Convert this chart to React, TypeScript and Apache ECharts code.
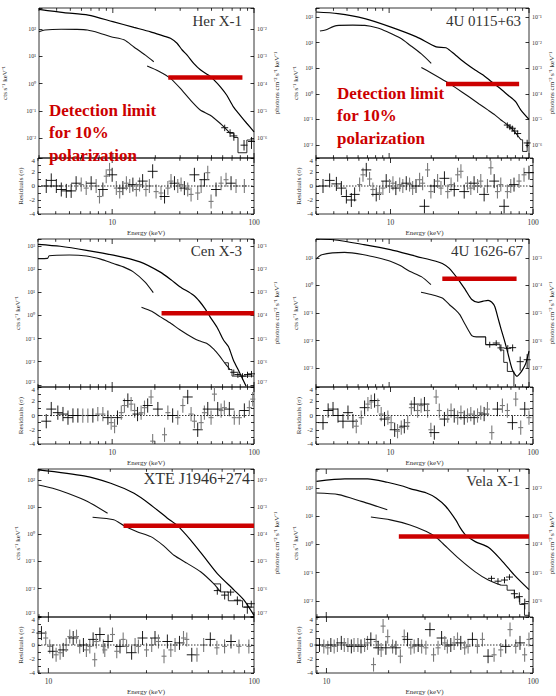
import React, { useEffect, useRef } from "react";
import * as echarts from "echarts";

const SERIF = '"Liberation Serif", "Times New Roman", serif';
const RED = "#cc0000";
const RIGHT_FACTOR = 1e-4;

// ---------- axes ----------
const X_RANGE_WIDE = [3, 100];
const X_RANGE_NARROW = [8.9, 100];
const X_TICKS_WIDE = [3, 4, 5, 6, 7, 8, 9, 10, 20, 30, 40, 50, 60, 70, 80, 90, 100];
const X_TICKS_NARROW = [9, 10, 20, 30, 40, 50, 60, 70, 80, 90, 100];
const X_MAJOR = [10, 100];

const PANEL_NAMES = ["Her X-1", "4U 0115+63", "Cen X-3", "4U 1626-67", "XTE J1946+274", "Vela X-1"];
const RED_LINES = ["Detection limit", "for 10%", "polarization"];

// ---------- Her X-1 ----------
const P1_YR = [0.00186, 590];
const P1_MODEL = [[3, 525], [4.5, 398], [6.7, 324], [10, 186], [14.1, 115], [18.5, 79], [23, 55], [25.6, 46], [28.5, 30], [31, 17], [33.6, 11], [37.4, 5.5], [41.7, 3.2], [47.8, 2.0], [51.8, 1.4], [57.8, 0.76], [64, 0.38], [71.5, 0.14], [79.5, 0.07], [88.8, 0.035], [100, 0.017]];
const P1_LOW1 = [[3, 80], [3.3, 92], [4.3, 98], [5.5, 97], [6.6, 92], [8, 72], [9.7, 52], [12, 40], [14.1, 22], [17, 11], [19.5, 6.3]];
const P1_LOW2 = [[17.5, 4.4], [21, 2.9], [25.6, 1.55], [30.1, 0.66], [35.4, 0.25], [41.6, 0.107], [49, 0.069], [57.5, 0.035], [62, 0.024], [67.7, 0.015]];
const P1_STEP = [[67.7, 0.015], [72, 0.015], [72, 0.0105], [77, 0.0105], [77, 0.0029], [89, 0.0029], [89, 0.0085], [100, 0.0085]];
const P1_PTS = [[62, 0.024, 0.018, 0.031], [67.7, 0.016, 0.011, 0.021], [72, 0.012, 0.008, 0.016], [85, 0.0055, 0.0035, 0.0085], [96, 0.0075, 0.004, 0.011]];
const P1_BAR = [[24.7, 1.68], [82.8, 1.68]];
const P1_RES = [[3.43, 0], [3.72, 0.8], [4.04, 0], [4.38, -0.5], [4.75, -0.7], [5.14, -0.7], [5.57, 0.4], [6.05, 0.2], [6.56, -0.3], [7.11, 0.4], [7.71, 0], [8.14, -1.5], [8.6, -0.5], [9.08, 1.4], [9.58, 2.3], [10, 1.6], [10.7, -0.3], [11.3, -0.8], [11.9, -0.3], [12.6, 0.4], [13.3, 0], [14, 0.2], [14.8, -0.5], [15.6, 0.2], [16.4, 0.7], [17.3, -0.5], [18.3, 0], [19.3, 2.1], [20.4, -0.8], [22.1, -1.0], [23.4, -1.5], [24.7, -0.3], [26, 0.7], [27.5, 0.4], [29, 0], [30.6, 0.2], [32.3, -0.3], [34.1, -0.5], [36, -1.2], [38, 1.6], [40.1, -1.0], [42.4, 0], [44.7, 0.9], [47.2, 1.9], [49.8, -2.2], [54, -0.5], [58.6, 0.4], [63.5, 0.9], [68.9, 0.4], [74.7, 0], [85.5, 0]];

// ---------- 4U 0115+63 ----------
const P2_YR = [0.0031, 2240];
const P2_MODEL = [[3, 1560], [4.3, 1350], [6.7, 860], [10.2, 410], [15.7, 167], [21.7, 68], [25.5, 63], [29.9, 32], [35, 16], [41.2, 8.5], [47, 5.4], [54, 2.95], [62, 1.64], [70.5, 0.9], [80, 0.5], [87.5, 0.23], [100, 0.1]];
const P2_LOW1 = [[3.2, 285], [3.5, 310], [4.2, 460], [5.5, 480], [6.7, 470], [8.3, 370], [9.7, 262], [12, 150], [14.1, 79], [17, 36], [20, 15.4]];
const P2_LOW2 = [[17, 10.7], [20, 6.5], [25.5, 3.0], [30, 1.7], [37, 0.78], [44, 0.4], [51, 0.23], [57, 0.15], [63, 0.095], [68, 0.07], [74.5, 0.046], [80, 0.03], [87.5, 0.016]];
const P2_STEP = [[87.5, 0.016], [90, 0.016], [90, 0.0056], [97, 0.0056], [97, 0.012], [100, 0.012]];
const P2_PTS = [[70, 0.06, 0.045, 0.076], [73, 0.05, 0.038, 0.063], [76, 0.045, 0.034, 0.057], [79, 0.035, 0.026, 0.045], [83, 0.028, 0.02, 0.037], [97, 0.012, 0.008, 0.016]];
const P2_BAR = [[25.5, 2.4], [85, 2.4]];
const P2_RES = [[3.36, 0], [3.74, 0.8], [4.17, 0.3], [4.52, -0.3], [4.9, -1.5], [5.31, -2.0], [5.6, -1.2], [6.07, 0.2], [6.41, 1.6], [6.76, 2.3], [7.13, 1.0], [7.52, -0.5], [7.94, -1.2], [8.37, -1.0], [8.84, -0.3], [9.33, 0.7], [9.84, 0], [10.4, 0.4], [10.9, -0.3], [11.6, 0.2], [12.2, 0], [12.9, 0.4], [13.6, 0.2], [14.3, -0.3], [15.1, 0], [16, 0.9], [16.8, 0.4], [17.3, -2.9], [18.2, 2.3], [19.2, -0.8], [20.3, 0], [21.4, 0.7], [22.6, -0.3], [23.9, 1.1], [25.2, -0.8], [26.6, 0.2], [28, -0.5], [29.6, 1.6], [31.2, 2.1], [32.9, -0.8], [34.7, 0.4], [36.6, -0.3], [38.6, 0.4], [40.8, 0], [43, 0.7], [45.4, -1.2], [47.9, 0], [50.6, 2.6], [53.4, 0.7], [56.3, -0.8], [59.4, 0.2], [62.7, -2.9], [66.1, -0.8], [69.8, 0], [73.6, 0.2], [79.8, 0.7], [86.5, 1.6], [93.7, 1.9]];

// ---------- Cen X-3 ----------
const P3_YR = [0.00081, 2000];
const P3_MODEL = [[3, 1180], [4.3, 970], [6.6, 650], [10.2, 400], [15.7, 205], [21.7, 76], [26, 35], [30, 17.4], [37.3, 7.6], [41.5, 3.9], [45, 2.0], [48.9, 0.89], [55, 0.3], [60.8, 0.089], [66, 0.045], [71.5, 0.012], [79.5, 0.0032], [88, 0.00087]];
const P3_LOW1 = [[3, 285], [3.5, 290], [3.6, 380], [5, 410], [6.6, 370], [8.3, 270], [10.2, 174], [12, 125], [14.1, 76], [17, 28], [19.5, 9.6]];
const P3_LOW2 = [[16.1, 2.24], [19, 1.5], [21.7, 0.89], [26, 0.45], [30, 0.24], [37.3, 0.105], [41, 0.08], [46.3, 0.063], [52, 0.035], [57.5, 0.017], [62, 0.009], [67.7, 0.0046]];
const P3_STEP = [[62, 0.009], [66, 0.009], [66, 0.0046], [70, 0.0046], [70, 0.0024], [100, 0.0024]];
const P3_PTS = [[72, 0.0035, 0.0025, 0.0046], [77, 0.0028, 0.002, 0.0037], [83, 0.0024, 0.0017, 0.0032], [90, 0.0028, 0.002, 0.0037], [96, 0.003, 0.0021, 0.004]];
const P3_BAR = [[22.3, 1.24], [100, 1.24]];
const P3_RES = [[3.43, -0.8], [3.72, 0.9], [4.14, 0.4], [4.5, 0.2], [4.88, -0.3], [5.29, 0], [5.73, 0], [6.21, 0], [6.74, 0], [7.31, 0], [7.92, 0.2], [8.6, 0.2], [9.33, -0.3], [9.84, -1.0], [10.4, -1.5], [10.9, -0.3], [11.6, 0.4], [12.2, 1.4], [12.9, 2.1], [13.6, 1.6], [14.4, 0.7], [15.1, 0.2], [16, 0.4], [16.9, 1.1], [17.8, 1.4], [18.8, 2.6], [19.3, -3.6], [21, 0.9], [23.4, -2.7], [24.7, 0.4], [26.7, 0], [29, -0.3], [31.5, 1.4], [34.1, 2.6], [36, 0.2], [38, -0.8], [40.1, -2.0], [42.4, -1.0], [44.7, 0.4], [47.2, 0.9], [49.8, -0.3], [52.6, 3.0], [55.5, 0.9], [58.6, 0.7], [61.8, 1.1], [67, 0.9], [72.6, -0.3], [78.8, -0.3], [85.5, 0.7], [92.7, 1.1], [98, 2.3]];

// ---------- 4U 1626-67 ----------
const P4_YR = [0.000204, 49];
const P4_MODEL = [[3, 49], [4, 46], [6.6, 30.5], [10.2, 20], [15.6, 11.5], [21.6, 7.6], [24, 6.3], [26.8, 4.3], [30.6, 1.9], [35, 0.71], [39, 0.31], [43.4, 0.245], [47, 0.27], [51, 0.29], [54, 0.25], [57, 0.17], [60, 0.066], [63.3, 0.025], [66.5, 0.0107], [70.5, 0.0036], [76, 0.00087], [82, 0.0005], [86, 0.00063], [90, 0.00087], [95, 0.0015], [100, 0.0041]];
const P4_LOW1 = [[3, 9.2], [3.3, 13.2], [4.8, 16], [6.6, 13.2], [8.3, 10.2], [10.2, 7.6], [12, 5.3], [14, 3.3], [17, 2.1], [19.9, 1.07]];
const P4_LOW2 = [[16.9, 0.57], [20, 0.47], [24, 0.35], [27, 0.2], [29.8, 0.13], [32, 0.087], [35, 0.038], [39, 0.015], [42, 0.0135], [45.8, 0.0135], [49, 0.0135], [49, 0.0071], [58, 0.0071]];
const P4_STEP = [[58, 0.0071], [62, 0.0071], [62, 0.0045], [66, 0.0045], [66, 0.0016], [70, 0.0016], [70, 0.00075], [78, 0.00075], [78, 0.00022]];
const P4_PTS = [[52.4, 0.0071, 0.0055, 0.009], [58.3, 0.0081, 0.0063, 0.0102], [63, 0.0054, 0.004, 0.0072], [70.5, 0.0052, 0.0038, 0.0068], [76.4, 0.0055, 0.004, 0.0072], [86.5, 0.0017, 0.0008, 0.0026], [97, 0.002, 0.001, 0.0032]];
const P4_BAR = [[24, 1.77], [81.5, 1.77]];
const P4_RES = [[3.36, -1.0], [3.65, 0.7], [3.95, 0.9], [4.28, 0], [4.64, -0.8], [5.03, 0.4], [5.45, -0.8], [5.75, -1.5], [6.23, -0.3], [6.58, 1.1], [6.94, 1.6], [7.32, 1.9], [7.73, 2.1], [8.15, 1.4], [8.6, 0.2], [9.08, -0.5], [9.58, -0.3], [10.1, -1.0], [10.7, -2.0], [11.2, -2.2], [11.9, -1.7], [12.5, -1.5], [13.2, -1.0], [14, 1.1], [14.7, 1.6], [15.5, 0.7], [16.4, 1.4], [17.3, 1.6], [18.2, 0.7], [19.2, -2.0], [20.3, -2.4], [20.9, 2.6], [22, 0.7], [23.9, -0.5], [25.2, 0], [26.6, 0.7], [28, 0], [29.6, -0.3], [31.2, 0.4], [32.9, -0.3], [34.7, 0], [36.6, 0.2], [38.6, -0.3], [40.8, 0], [43, 0.4], [45.4, 0.2], [47.9, 0.9], [51.4, -2.4], [56.3, 0.9], [61, 1.4], [66.1, 0.7], [71.7, -1.0], [75.7, 2.3], [82, -1.7], [87.5, 0.9], [93.7, -0.3]];

// ---------- XTE J1946+274 ----------
const P5_YR = [0.00091, 251];
const P5_MODEL = [[8.94, 234], [14.9, 140], [20.1, 75], [26.1, 32], [31.5, 12], [37.9, 3.9], [42.4, 2.07], [49.2, 0.61], [57.1, 0.15], [66.3, 0.036], [80, 0.0089], [89.4, 0.0038], [100, 0.00105]];
const P5_LOW1 = [[8.94, 65], [10.5, 49], [12.4, 32], [15.5, 16], [19.4, 5.9]];
const P5_LOW2 = [[16.4, 4.2], [20.8, 3.4], [23.3, 2.07], [27, 1.25], [31.5, 0.82], [36, 0.4], [40.8, 0.17], [47.4, 0.085], [55, 0.042], [63.8, 0.015], [68.8, 0.0076]];
const P5_STEP = [[63.8, 0.015], [68.8, 0.015], [68.8, 0.0076], [75, 0.0076], [75, 0.0036], [88, 0.0036], [88, 0.0021], [100, 0.0021]];
const P5_PTS = [[66.3, 0.0085, 0.006, 0.011], [72, 0.0058, 0.004, 0.0078], [77, 0.0075, 0.0055, 0.0095], [83, 0.0038, 0.0025, 0.0052], [92.8, 0.0021, 0.0012, 0.003], [97, 0.0028, 0.002, 0.0036]];
const P5_BAR = [[23.2, 2.07], [100, 2.07]];
const P5_RES = [[9.25, 1.7], [9.7, 1.0], [10.15, -0.2], [10.5, -0.9], [10.9, -1.4], [11.4, -1.1], [11.8, -0.7], [12.2, 0], [12.7, 1.2], [13.2, 1.0], [13.7, 1.2], [14.2, -0.2], [14.8, 0], [15.3, -0.7], [15.9, -0.2], [16.5, 0.8], [16.8, -2.1], [17.1, 0.5], [17.8, 1.5], [18.5, -0.2], [18.8, -0.7], [19.5, 0.5], [20.5, 1.5], [21.5, -0.9], [22.3, -0.2], [23.1, 0.8], [24, -0.2], [25.4, -1.1], [26.4, 0], [27.4, -0.2], [28.7, 1.0], [30, -0.7], [31.8, 0], [33, 1.0], [34.3, 0.5], [36.5, -1.6], [37.9, 0.5], [39.4, -0.7], [41.3, 0], [43.4, 0.3], [45.4, 1.0], [47.1, 0.8], [49.8, -1.4], [52.8, -1.4], [56.9, 0], [61.3, 0.8], [66, -0.4], [71.9, -0.2], [77.3, 0.5], [84.5, -0.2], [94.4, -0.2]];

// ---------- Vela X-1 ----------
const P6_YR = [0.0027, 468];
const P6_MODEL = [[8.95, 172], [12.35, 209], [16, 209], [20, 159], [24, 115], [25.9, 95], [31.2, 66], [34.8, 44], [38.9, 22], [43.5, 7.4], [45.9, 3.77], [48.6, 2.18], [54.3, 1.26], [63, 0.79], [73, 0.28], [84.7, 0.082], [100, 0.025]];
const P6_LOW1 = [[8.95, 66], [11.5, 58], [14.9, 33.5], [17.9, 22], [20, 17]];
const P6_LOW2 = [[16.6, 9.3], [20.7, 7.4], [25.9, 4.9], [31.2, 2.87], [34.8, 1.8], [37.5, 1.1], [45, 0.32], [54.3, 0.107], [63, 0.055], [73, 0.036]];
const P6_STEP = [[73, 0.036], [78, 0.036], [78, 0.024], [84.7, 0.024], [84.7, 0.013], [90, 0.013], [90, 0.0075], [95, 0.0075], [95, 0.0031], [100, 0.0031]];
const P6_PTS = [[65.3, 0.063, 0.05, 0.078], [70.3, 0.05, 0.038, 0.064], [75.7, 0.055, 0.042, 0.07], [80.1, 0.07, 0.055, 0.088], [84.7, 0.018, 0.012, 0.025], [89.6, 0.0142, 0.009, 0.02], [95.3, 0.008, 0.005, 0.012]];
const P6_BAR = [[22.8, 1.9], [100, 1.9]];
const P6_RES = [[9.25, 0], [9.71, -0.2], [10.15, -0.4], [10.5, 0], [10.9, -0.2], [11.3, 0], [11.8, 0.3], [12.2, 0], [12.7, 0], [13.2, -0.2], [13.6, 0], [14.2, 0], [14.7, -0.2], [15.3, 0], [15.8, 0.3], [16.4, 0.8], [16.9, -2.8], [17.4, 0.5], [17.8, -0.4], [18.4, -0.7], [18.8, 2.7], [19.4, -0.4], [19.8, 1.2], [20.9, -0.2], [21.7, -0.4], [22.8, -1.6], [23.8, 1.2], [24.7, 0.8], [25.6, -0.4], [26.6, -0.2], [27.8, 0], [28.9, -0.2], [30.3, -0.4], [31.7, 2.2], [33, -1.4], [34.7, -0.4], [36.1, 1.0], [37.4, 0.3], [38.5, -0.2], [40, 0], [41.5, 0.3], [43.1, 0.8], [44.7, 0.3], [46.7, -0.4], [48.5, -0.2], [50.9, 0.8], [53.8, -0.2], [56.9, 0.8], [60.6, -1.6], [64.8, -1.4], [69.8, -0.7], [73.8, -0.2], [77.4, 2.2], [82.5, -0.2], [86.5, 0.3], [91.1, -1.4], [95.6, 0.8]];

const PANELS = [
  { model: P1_MODEL, low1: P1_LOW1, low2: P1_LOW2, step: P1_STEP, pts: P1_PTS, bar: P1_BAR, res: P1_RES, yr: P1_YR, xr: X_RANGE_WIDE, ticks: X_TICKS_WIDE },
  { model: P2_MODEL, low1: P2_LOW1, low2: P2_LOW2, step: P2_STEP, pts: P2_PTS, bar: P2_BAR, res: P2_RES, yr: P2_YR, xr: X_RANGE_WIDE, ticks: X_TICKS_WIDE },
  { model: P3_MODEL, low1: P3_LOW1, low2: P3_LOW2, step: P3_STEP, pts: P3_PTS, bar: P3_BAR, res: P3_RES, yr: P3_YR, xr: X_RANGE_WIDE, ticks: X_TICKS_WIDE },
  { model: P4_MODEL, low1: P4_LOW1, low2: P4_LOW2, step: P4_STEP, pts: P4_PTS, bar: P4_BAR, res: P4_RES, yr: P4_YR, xr: X_RANGE_WIDE, ticks: X_TICKS_WIDE },
  { model: P5_MODEL, low1: P5_LOW1, low2: P5_LOW2, step: P5_STEP, pts: P5_PTS, bar: P5_BAR, res: P5_RES, yr: P5_YR, xr: X_RANGE_NARROW, ticks: X_TICKS_NARROW },
  { model: P6_MODEL, low1: P6_LOW1, low2: P6_LOW2, step: P6_STEP, pts: P6_PTS, bar: P6_BAR, res: P6_RES, yr: P6_YR, xr: X_RANGE_NARROW, ticks: X_TICKS_NARROW },
];

// ---------- layout (pixels) ----------
const LAYOUT = [
  { left: 38, width: 216, top: 8, specH: 150, resH: 56, ctsGap: 31, photGap: 19 },
  { left: 316, width: 217, top: 8, specH: 150, resH: 56, ctsGap: 15, photGap: 19 },
  { left: 38, width: 216, top: 239, specH: 148, resH: 57, ctsGap: 10, photGap: 19 },
  { left: 316, width: 217, top: 239, specH: 148, resH: 57, ctsGap: 15, photGap: 19 },
  { left: 38, width: 216, top: 469, specH: 148, resH: 58, ctsGap: 10, photGap: 19 },
  { left: 316, width: 217, top: 469, specH: 148, resH: 58, ctsGap: 15, photGap: 19 },
];
const NAME_POS = [[242, 21], [521, 21], [242, 251], [523, 251], [250, 478], [520, 481]];
const NAME_SIZE = [15, 15, 15, 15, 16, 15];
const RED_POS = [[49, 110], [337, 93]];

const SUP: Record<string, string> = { "0": "⁰", "1": "¹", "2": "²", "3": "³", "4": "⁴", "5": "⁵", "6": "⁶", "7": "⁷", "8": "⁸", "9": "⁹", "-": "⁻" };
function pow10Text(v: number) {
  const l = Math.log10(v);
  const n = Math.round(l);
  if (Math.abs(l - n) > 1e-3) return "";
  return "10" + String(n).split("").map((c) => SUP[c]).join("");
}
function decadeLabel(v: number) {
  const l = Math.log10(v);
  const n = Math.round(l);
  if (Math.abs(l - n) > 1e-3) return "";
  return String(Math.round(v));
}

function clamp(v: number, a: number, b: number) {
  return Math.min(Math.max(v, a), b);
}

function tickRender(params: any, api: any) {
  const e = api.value(0);
  const px = api.coord([e, api.value(1)])[0];
  const cs = params.coordSys;
  const len = X_MAJOR.includes(e) ? 5 : 2.8;
  const st = { stroke: "#000", lineWidth: 0.8 };
  return {
    type: "group",
    children: [
      { type: "line", shape: { x1: px, y1: cs.y + cs.height, x2: px, y2: cs.y + cs.height - len }, style: st },
      { type: "line", shape: { x1: px, y1: cs.y, x2: px, y2: cs.y + len }, style: st },
    ],
  };
}

function crossRender(hwDefault: number) {
  return (params: any, api: any) => {
    const e = api.value(0);
    const v = api.value(1);
    const lo = api.value(2);
    const hi = api.value(3);
    const black = api.value(4) === 1;
    const cs = params.coordSys;
    const c = api.coord([e, v]);
    const t = api.coord([e, hi])[1];
    const b = api.coord([e, lo])[1];
    const y0 = cs.y, y1 = cs.y + cs.height;
    const cy = clamp(c[1], y0, y1);
    const hw = black ? hwDefault : hwDefault * 0.5;
    const color = black ? "#000" : "#7a7a7a";
    const st = { stroke: color, lineWidth: black ? 0.9 : 1.1 };
    const children: any[] = [
      { type: "line", shape: { x1: c[0], y1: clamp(t, y0, y1), x2: c[0], y2: clamp(b, y0, y1) }, style: st },
    ];
    if (c[1] >= y0 && c[1] <= y1) {
      children.push({ type: "line", shape: { x1: c[0] - hw, y1: cy, x2: c[0] + hw, y2: cy }, style: st });
    }
    return { type: "group", children };
  };
}

function buildOption() {
  const grids: any[] = [];
  const xAxes: any[] = [];
  const yAxes: any[] = [];
  const series: any[] = [];
  const graphic: any[] = [];
  const nameStyle = { fontFamily: SERIF, fontSize: 7, color: "#333" };
  const labelStyle = { fontFamily: SERIF, color: "#333" };

  PANELS.forEach((p, i) => {
    const L = LAYOUT[i];
    grids.push({ left: L.left, top: L.top, width: L.width, height: L.specH, show: true, borderColor: "#000", borderWidth: 0.8 });
    grids.push({ left: L.left, top: L.top + L.specH, width: L.width, height: L.resH, show: true, borderColor: "#000", borderWidth: 0.8 });
    const xs = 2 * i, xr = 2 * i + 1;
    const yl = 4 * i, rl = 4 * i + 2;

    xAxes.push({ type: "log", gridIndex: xs, min: p.xr[0], max: p.xr[1], axisLine: { show: false }, axisTick: { show: false }, axisLabel: { show: false }, splitLine: { show: false } });
    xAxes.push({
      type: "log", gridIndex: xr, min: p.xr[0], max: p.xr[1], axisLine: { show: false }, axisTick: { show: false }, splitLine: { show: false },
      axisLabel: { ...labelStyle, fontSize: 7.5, margin: 4, formatter: decadeLabel, showMinLabel: true, showMaxLabel: true },
      name: "Energy (keV)", nameLocation: "middle", nameGap: 15, nameTextStyle: nameStyle,
    });

    const logY = (min: number, max: number, pos: string) => ({
      type: "log", gridIndex: xs, position: pos, min, max,
      axisLine: { show: false }, splitLine: { show: false },
      axisTick: { show: true, inside: true, length: 3.5, lineStyle: { color: "#000", width: 0.8 } },
      axisLabel: {
        ...labelStyle, fontSize: 6, margin: 3, showMinLabel: true, showMaxLabel: true,
        // a decade label sitting on the bottom edge is nudged up so it clears the residual "4"
        formatter: (v: number) => {
          const t = pow10Text(v);
          if (!t) return "";
          return Math.log10(v) - Math.log10(min) < 0.12 ? `{up|${t}}` : t;
        },
        rich: { up: { fontFamily: SERIF, fontSize: 6, color: "#333", padding: [0, 0, 5, 0] } },
      },
      nameLocation: "middle", nameRotate: 90, nameTextStyle: nameStyle,
    });
    yAxes.push({ ...logY(p.yr[0], p.yr[1], "left"), name: "cts s⁻¹ keV⁻¹", nameGap: L.ctsGap });
    yAxes.push({ ...logY(p.yr[0] * RIGHT_FACTOR, p.yr[1] * RIGHT_FACTOR, "right"), name: "photons cm⁻² s⁻¹ keV⁻¹", nameGap: L.photGap });
    const resY = (pos: string, labels: boolean) => ({
      type: "value", gridIndex: xr, position: pos, min: -4, max: 4, interval: 1,
      axisLine: { show: false }, splitLine: { show: false },
      axisTick: { show: true, inside: true, length: 3, lineStyle: { color: "#000", width: 0.8 } },
      axisLabel: {
        show: labels, ...labelStyle, fontSize: 7, margin: 3,
        formatter: (v: number) => (v === 4 ? "{dn|4}" : v % 2 === 0 ? String(v) : ""),
        rich: { dn: { fontFamily: SERIF, fontSize: 7, color: "#333", padding: [5, 0, 0, 0] } },
      },
    });
    yAxes.push({ ...resY("left", true), name: "Residuals (σ)", nameLocation: "middle", nameRotate: 90, nameGap: 14, nameTextStyle: nameStyle });
    yAxes.push(resY("right", false));

    const base = { type: "line", xAxisIndex: xs, yAxisIndex: yl, symbol: "none", showSymbol: false, silent: true };
    series.push({ ...base, data: p.model, smooth: 0.25, lineStyle: { color: "#000", width: 1.2 } });
    series.push({ ...base, data: p.low1, smooth: 0.25, lineStyle: { color: "#111", width: 1.1 } });
    series.push({ ...base, data: p.low2, smooth: 0.2, lineStyle: { color: "#111", width: 1.1 } });
    series.push({ ...base, data: p.step, lineStyle: { color: "#111", width: 0.9 } });
    series.push({ type: "custom", xAxisIndex: xs, yAxisIndex: yl, silent: true, data: p.pts.map((d) => [d[0], d[1], d[2], d[3], 1]), renderItem: crossRender(3.5) });
    series.push({ ...base, data: p.bar, z: 5, lineStyle: { color: RED, width: 4.5 } });
    series.push({ type: "custom", xAxisIndex: xs, yAxisIndex: yl, silent: true, data: p.ticks.map((e) => [e, p.yr[0]]), renderItem: tickRender });

    series.push({
      type: "custom", xAxisIndex: xr, yAxisIndex: rl, silent: true,
      data: p.res.map((d, k) => [d[0], d[1], d[1] - 1, d[1] + 1, d[0] < 5.6 || k % 3 === 0 ? 1 : 0]),
      renderItem: crossRender(5),
    });
    series.push({ type: "line", xAxisIndex: xr, yAxisIndex: rl, symbol: "none", silent: true, data: [[p.xr[0], 0], [p.xr[1], 0]], lineStyle: { color: "#000", width: 0.8, type: [1.5, 1.5] } });
    series.push({ type: "custom", xAxisIndex: xr, yAxisIndex: rl, silent: true, data: p.ticks.map((e) => [e, 0]), renderItem: tickRender });

    graphic.push({
      type: "text", x: NAME_POS[i][0], y: NAME_POS[i][1], z: 20,
      style: { text: PANEL_NAMES[i], fill: "#333", font: `${NAME_SIZE[i]}px ${SERIF}`, textAlign: "right", align: "right", textVerticalAlign: "middle", verticalAlign: "middle" },
    });
  });

  RED_POS.forEach(([x, y]) => {
    RED_LINES.forEach((t, k) => {
      graphic.push({
        type: "text", x, y: y + k * 22.5, z: 30,
        style: { text: t, fill: RED, font: `bold 17px ${SERIF}`, textAlign: "left", align: "left", textVerticalAlign: "middle", verticalAlign: "middle" },
      });
    });
  });

  return { animation: false, backgroundColor: "#fff", grid: grids, xAxis: xAxes, yAxis: yAxes, series, graphic };
}

export default function App() {
  const ref = useRef<HTMLDivElement>(null);
  useEffect(() => {
    if (!ref.current) return;
    const chart = echarts.init(ref.current, null, { renderer: "svg" });
    chart.setOption(buildOption() as any);
    return () => chart.dispose();
  }, []);
  return <div ref={ref} style={{ position: "absolute", left: 0, top: 0, width: 556, height: 696, background: "#fff" }} />;
}
